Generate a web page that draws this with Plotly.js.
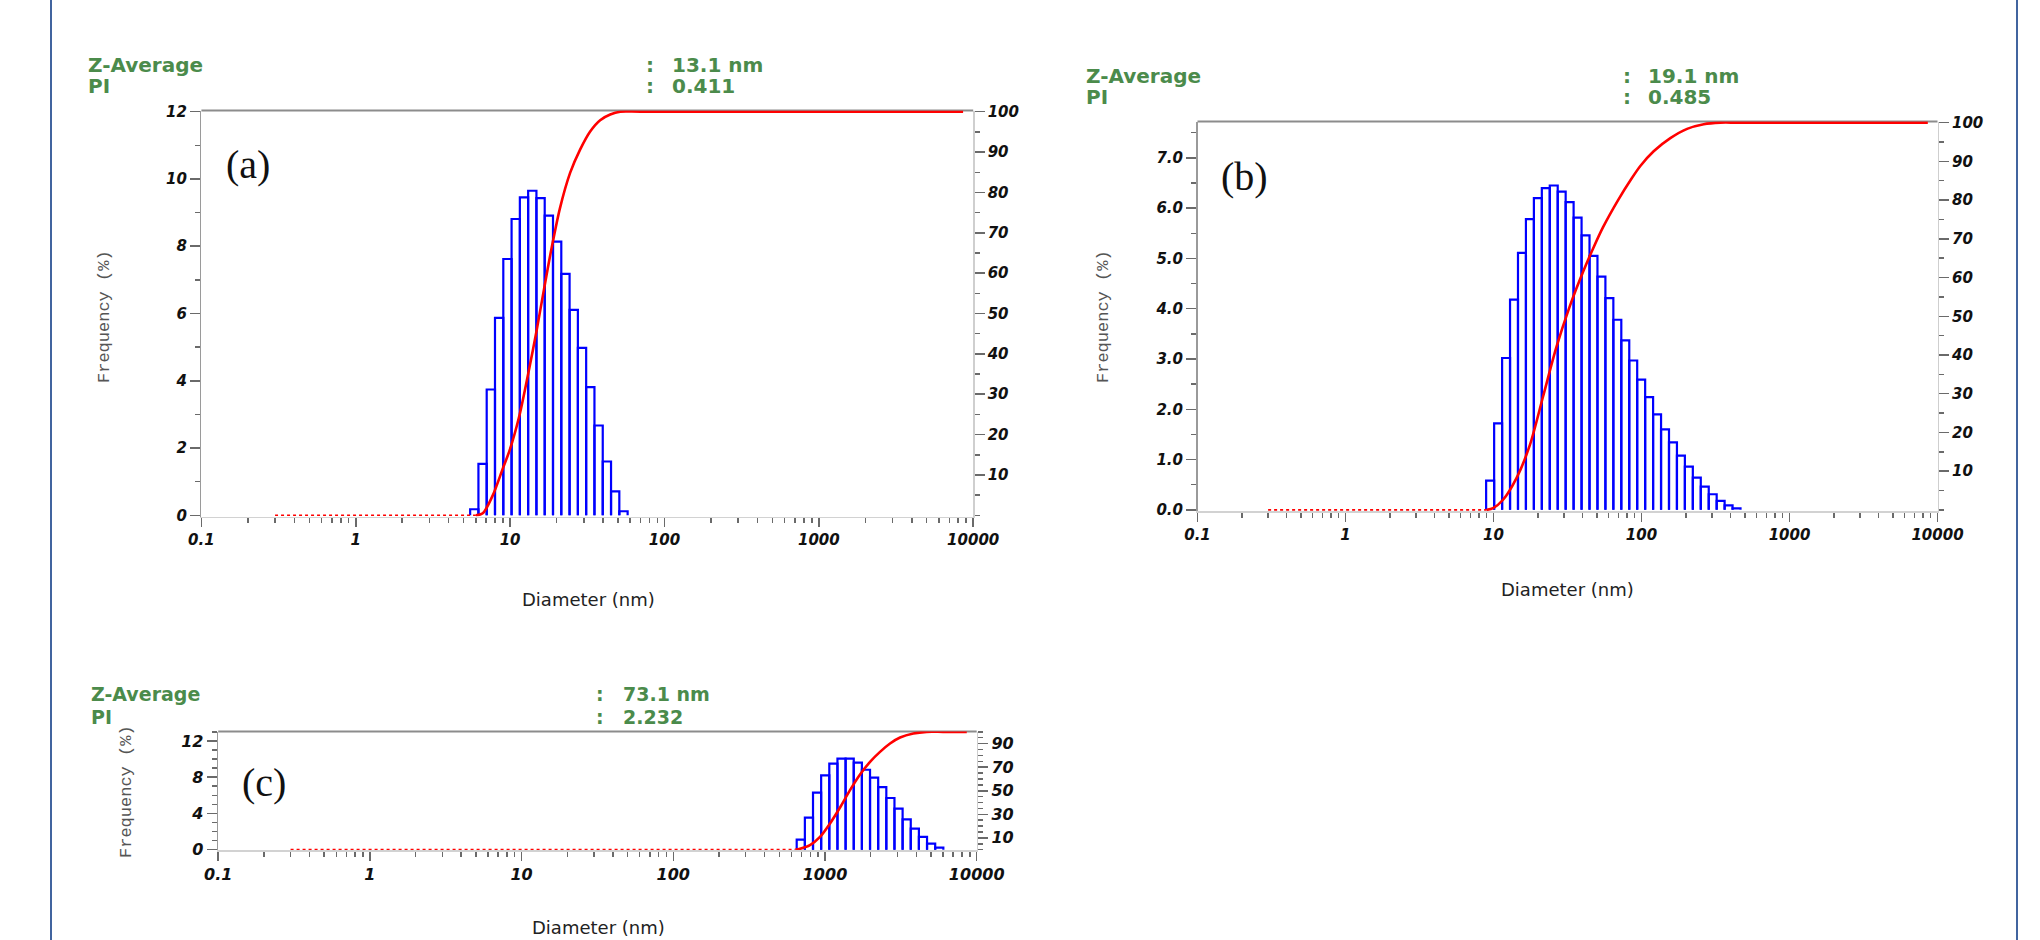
<!DOCTYPE html>
<html>
<head>
<meta charset="utf-8">
<script src="https://cdn.plot.ly/plotly-3.0.1.min.js"></script>
<style>
html, body { margin: 0; padding: 0; background: #ffffff; }
#chart { width: 2040px; height: 940px; }
</style>
</head>
<body>
<div id="chart"></div>
<script>
// ---------------- data ----------------
// Panel (a)
const sizesA = [5.86, 6.63, 7.50, 8.49, 9.61, 10.87, 12.30, 13.92, 15.75, 17.82, 20.17, 22.82, 25.83, 29.23, 33.07, 37.43, 42.36, 47.93, 54.24];
const freqA  = [0.18, 1.53, 3.74, 5.87, 7.62, 8.81, 9.45, 9.65, 9.43, 8.91, 8.14, 7.18, 6.11, 4.98, 3.81, 2.67, 1.60, 0.71, 0.12];
const cumSizesA = [6.0, 6.65, 7.73, 8.97, 9.91, 11.5, 13.4, 14.8, 16.05, 18.2, 21.0, 24.5, 28.4, 33.0, 38.3, 44.5, 51.6, 70, 8600];
const cumA      = [0, 0.5, 5, 11.6, 16, 24.8, 37, 45.5, 53, 64.5, 76, 84.9, 90.6, 95.1, 97.9, 99.3, 100, 100, 100];
const zeroSizesA = [0.3, 6.0];

// Panel (b)
const sizesB = [9.49, 10.75, 12.16, 13.76, 15.57, 17.62, 19.94, 22.56, 25.53, 28.89, 32.69, 37.00, 41.87, 47.38, 53.61, 60.67, 68.65, 77.69, 87.91, 99.49, 112.6, 127.4, 144.2, 163.2, 184.6, 208.9, 236.4, 267.6, 302.8, 342.6, 387.7, 438.7];
const freqB  = [0.58, 1.72, 3.02, 4.18, 5.11, 5.78, 6.20, 6.40, 6.45, 6.33, 6.12, 5.81, 5.46, 5.05, 4.64, 4.21, 3.78, 3.37, 2.97, 2.59, 2.24, 1.90, 1.60, 1.34, 1.08, 0.86, 0.64, 0.46, 0.31, 0.18, 0.09, 0.03];
const cumSizesB = [9.0, 9.94, 11.6, 14.3, 17.6, 21.6, 26.6, 32.7, 40.3, 47.1, 55.0, 69.5, 85.5, 98.2, 120.8, 156.6, 203.2, 263.3, 341, 450, 8600];
const cumB      = [0, 0.44, 2.6, 8.2, 16.7, 29.2, 42.0, 52.5, 61.5, 67.5, 73.0, 80.0, 85.5, 88.8, 92.6, 96.0, 98.4, 99.6, 100, 100, 100];
const zeroSizesB = [0.3, 9.0];

// Panel (c)
const sizesC = [692.4, 783.8, 886.7, 1003.5, 1135.6, 1284.9, 1454.3, 1645.6, 1862.1, 2107.1, 2384.4, 2698.0, 3053.3, 3455.0, 3909.6, 4424.1, 5006.4, 5665.2];
const freqC  = [1.10, 3.53, 6.29, 8.20, 9.49, 10.04, 10.04, 9.60, 8.82, 7.94, 6.91, 5.70, 4.52, 3.35, 2.32, 1.40, 0.66, 0.22];
const cumSizesC = [640, 684, 796, 927, 1079, 1256, 1462, 1702, 1981, 2305, 2684, 3124, 3823, 4680, 6000, 8600];
const cumC      = [0, 0.7, 3.8, 10.8, 22.2, 35.8, 50.5, 63.8, 74.5, 83.0, 90.1, 95.2, 98.6, 100, 100, 100];
const zeroSizesC = [0.3, 640];

// Texts
const panelLabels = ['(a)', '(b)', '(c)'];
const zAverages = ['13.1 nm', '19.1 nm', '73.1 nm'];
const pdis = ['0.411', '0.485', '2.232'];
const zLabel = 'Z-Average';
const piLabel = 'PI';
const xTitle = 'Diameter (nm)';
const yTitle = 'Frequency (%)';

// Tick labels
const xTickVals = [0.1, 1, 10, 100, 1000, 10000];
const xTickText = ['0.1', '1', '10', '100', '1000', '10000'];
const pctTicksAB = [10, 20, 30, 40, 50, 60, 70, 80, 90, 100];
const pctTicksC = [10, 30, 50, 70, 90];

// ---------------- helpers ----------------
const W = 2040, H = 940;
const px = x => x / W;
const py = y => 1 - y / H;

const minorX = [];
for (let e = -1; e <= 3; e++) {
  for (let d = 2; d <= 9; d++) minorX.push(d * Math.pow(10, e));
}

function barOutline(sizes, freqs) {
  const xs = [], ys = [];
  const n = sizes.length;
  for (let i = 0; i < n; i++) {
    const prev = i > 0 ? sizes[i - 1] : sizes[i] * sizes[i] / sizes[i + 1];
    const next = i < n - 1 ? sizes[i + 1] : sizes[i] * sizes[i] / sizes[i - 1];
    const lo = Math.sqrt(prev * sizes[i]);
    const hi = Math.sqrt(sizes[i] * next);
    xs.push(lo, lo, hi, hi, null);
    ys.push(0, freqs[i], freqs[i], 0, null);
  }
  return { xs, ys };
}

const BLUE = '#0000ff', RED = '#ff0000';
const TICKC = '#6a6a6a';

function panelTraces(sizes, freqs, cumSizes, cum, zeroSizes, xa, ya, ya2) {
  const b = barOutline(sizes, freqs);
  return [
    { type: 'scatter', mode: 'lines', x: b.xs, y: b.ys, xaxis: xa, yaxis: ya,
      line: { color: BLUE, width: 2.2 }, connectgaps: false, hoverinfo: 'skip', showlegend: false },
    { type: 'scatter', mode: 'lines', x: zeroSizes, y: [0, 0], xaxis: xa, yaxis: ya2,
      line: { color: RED, width: 1.6, dash: 'dot' }, hoverinfo: 'skip', showlegend: false },
    { type: 'scatter', mode: 'lines', x: cumSizes, y: cum, xaxis: xa, yaxis: ya2,
      line: { color: RED, width: 2.6, shape: 'spline', smoothing: 0.8 }, hoverinfo: 'skip', showlegend: false }
  ];
}

function tickFont(size) {
  return { family: 'DejaVu Sans', size: size, weight: 'bold', style: 'italic', color: '#111111' };
}

function xAxisCfg(domain, anchor, fs) {
  return {
    type: 'log', domain: domain, anchor: anchor, range: [-1, 4],
    tickmode: 'array', tickvals: xTickVals, ticktext: xTickText,
    ticks: 'outside', ticklen: 9, tickwidth: 1.5, tickcolor: TICKC,
    showline: true, linecolor: '#d2d2d2', linewidth: 1.5,
    showgrid: false, zeroline: false, tickfont: tickFont(fs),
    minor: { tickmode: 'array', tickvals: minorX, ticks: 'outside', ticklen: 5, tickwidth: 1.5, tickcolor: TICKC, showgrid: false },
    fixedrange: true
  };
}

function yLeftCfg(domain, anchor, top, dtick, minorDtick, fmt, fs) {
  const pad = top * 0.003;
  return {
    domain: domain, anchor: anchor, range: [-pad, top + pad],
    tickmode: 'linear', tick0: 0, dtick: dtick, tickformat: fmt,
    ticks: 'outside', ticklen: 10, tickwidth: 1.5, tickcolor: TICKC,
    showline: true, linecolor: '#9a9a9a', linewidth: 1.5,
    showgrid: false, zeroline: false, tickfont: tickFont(fs),
    minor: { tickmode: 'linear', tick0: 0, dtick: minorDtick, ticks: 'outside', ticklen: 5, tickwidth: 1.5, tickcolor: TICKC, showgrid: false },
    fixedrange: true
  };
}

function yRightCfg(overlay, anchor, tickvals, fs) {
  return {
    overlaying: overlay, side: 'right', anchor: anchor, range: [-0.3, 100.3],
    tickmode: 'array', tickvals: tickvals,
    ticks: 'outside', ticklen: 10, tickwidth: 1.5, tickcolor: TICKC,
    showline: true, linecolor: '#cfcfcf', linewidth: 1.5,
    showgrid: false, zeroline: false, tickfont: tickFont(fs),
    minor: { tickmode: 'linear', tick0: 0, dtick: 5, ticks: 'outside', ticklen: 5, tickwidth: 1.5, tickcolor: TICKC, showgrid: false },
    fixedrange: true
  };
}

const GREEN = '#4b8b4b';
function ann(text, x, y, opts) {
  return Object.assign({
    xref: 'paper', yref: 'paper', x: px(x), y: py(y), text: text, showarrow: false,
    xanchor: 'left', yanchor: 'middle'
  }, opts);
}
function headerAnns(zx, zy, piy, colonX, valX, zText, pText, fs) {
  const f = { family: 'DejaVu Sans', size: fs, weight: 'bold', color: GREEN };
  return [
    ann(zLabel, zx, zy, { font: f }),
    ann(piLabel, zx, piy, { font: f }),
    ann(':', colonX, zy, { font: f, xanchor: 'center' }),
    ann(':', colonX, piy, { font: f, xanchor: 'center' }),
    ann(zText, valX, zy, { font: f }),
    ann(pText, valX, piy, { font: f })
  ];
}
const serifFont = { family: 'Liberation Serif', size: 40, color: '#111111' };
const diamFont = { family: 'DejaVu Sans', size: 18, color: '#222222' };
const freqFont = { family: 'Liberation Mono', size: 17, color: '#555555' };

// ---------------- traces ----------------
const data = []
  .concat(panelTraces(sizesA, freqA, cumSizesA, cumA, zeroSizesA, 'x', 'y', 'y2'))
  .concat(panelTraces(sizesB, freqB, cumSizesB, cumB, zeroSizesB, 'x2', 'y3', 'y4'))
  .concat(panelTraces(sizesC, freqC, cumSizesC, cumC, zeroSizesC, 'x3', 'y5', 'y6'));

// ---------------- layout ----------------
const domA = { x: [px(201.4), px(973.2)], y: [py(516.5), py(110.5)] };
const domB = { x: [px(1197.5), px(1937.5)], y: [py(511), py(121.5)] };
const domC = { x: [px(218.2), px(976.7)], y: [py(850), py(731.5)] };

function topLine(xr, yr) {
  return { type: 'line', xref: xr + ' domain', yref: yr + ' domain', x0: 0, x1: 1, y0: 1, y1: 1,
           line: { color: '#8c8c8c', width: 2 }, layer: 'below' };
}
function pageLine(x) {
  return { type: 'line', xref: 'paper', yref: 'paper', x0: px(x), x1: px(x), y0: 0, y1: 1,
           line: { color: '#41649f', width: 2 }, layer: 'above' };
}

const annotations = []
  .concat(headerAnns(86, 65, 86, 650, 670, zAverages[0], pdis[0], 20))
  .concat(headerAnns(1084, 76, 97, 1627, 1646, zAverages[1], pdis[1], 20))
  .concat(headerAnns(89, 694, 717, 600, 621, zAverages[2], pdis[2], 19))
  .concat([
    ann(panelLabels[0], 247.5, 164, { font: serifFont, xanchor: 'center' }),
    ann(panelLabels[1], 1244, 176, { font: serifFont, xanchor: 'center' }),
    ann(panelLabels[2], 263.5, 782, { font: serifFont, xanchor: 'center' }),
    ann(xTitle, 588, 599, { font: diamFont, xanchor: 'center' }),
    ann(xTitle, 1567, 589, { font: diamFont, xanchor: 'center' }),
    ann(xTitle, 598, 927, { font: diamFont, xanchor: 'center' }),
    ann(yTitle, 105, 317, { font: freqFont, xanchor: 'center', textangle: -90 }),
    ann(yTitle, 1104, 317, { font: freqFont, xanchor: 'center', textangle: -90 }),
    ann(yTitle, 126, 792, { font: freqFont, xanchor: 'center', textangle: -90 })
  ]);

const layout = {
  width: W, height: H,
  margin: { l: 0, r: 0, t: 0, b: 0, pad: 0 },
  paper_bgcolor: '#ffffff', plot_bgcolor: 'rgba(0,0,0,0)',
  showlegend: false,
  xaxis: xAxisCfg(domA.x, 'y', 15),
  yaxis: yLeftCfg(domA.y, 'x', 12, 2, 1, '', 15),
  yaxis2: yRightCfg('y', 'x', pctTicksAB, 15),
  xaxis2: xAxisCfg(domB.x, 'y3', 15),
  yaxis3: yLeftCfg(domB.y, 'x2', 7.7, 1, 0.5, '.1f', 15),
  yaxis4: yRightCfg('y3', 'x2', pctTicksAB, 15),
  xaxis3: xAxisCfg(domC.x, 'y5', 16),
  yaxis5: yLeftCfg(domC.y, 'x3', 13, 4, 1, '', 16),
  yaxis6: yRightCfg('y5', 'x3', pctTicksC, 16),
  shapes: [topLine('x', 'y'), topLine('x2', 'y3'), topLine('x3', 'y5'), pageLine(51), pageLine(2017)],
  annotations: annotations
};

Plotly.newPlot('chart', data, layout, { staticPlot: true, displayModeBar: false });
</script>
</body>
</html>
